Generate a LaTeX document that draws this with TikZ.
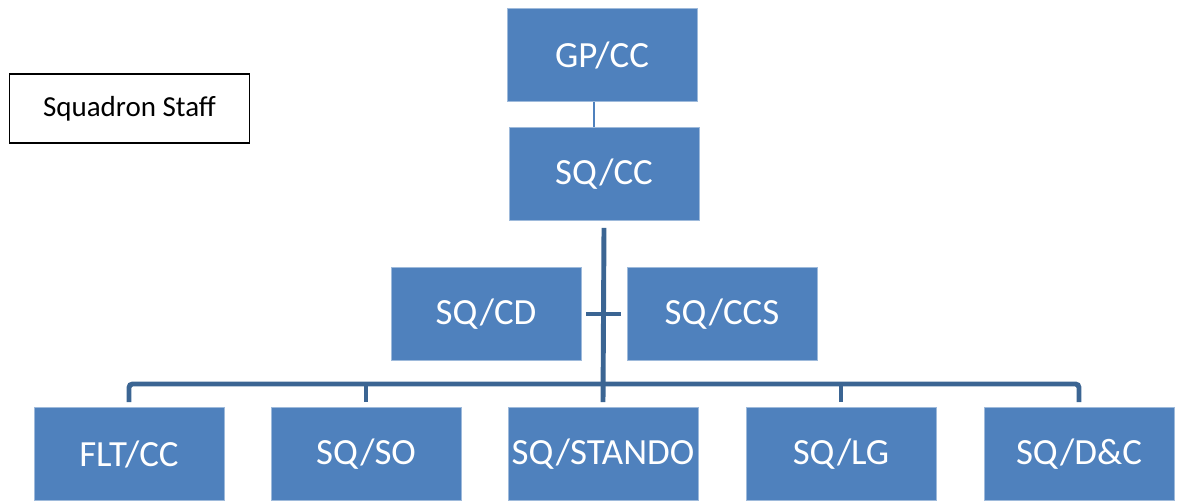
\documentclass[tikz,border=0pt]{standalone}
\usepackage{fontspec}
\setmainfont{Carlito}
\usepackage{tikz}
\usetikzlibrary{calc}
\definecolor{boxblue}{HTML}{4F81BD}
\definecolor{lineblue}{HTML}{3B6593}
\tikzset{
  unit/.style={rectangle,fill=boxblue,draw=boxblue!55!white,line width=0.5pt,
    minimum width=3.8cm,minimum height=1.86cm,inner sep=0pt,
    text=white,font=\fontsize{21}{25}\selectfont},
  trunk/.style={draw=lineblue,line width=2.8pt},
  link/.style={draw=boxblue,line width=1.1pt},
  tag/.style={rectangle,draw=black,line width=0.9pt,fill=white,
    minimum width=4.8cm,minimum height=1.38cm,font=\fontsize{16.5}{20}\selectfont}
}
\begin{document}
\begin{tikzpicture}[x=0.02cm,y=-0.02cm]
\useasboundingbox (0,0) rectangle (1179,502);
% Legend
\node[tag] (staff) at (129.5,108.5) {Squadron Staff};

% Command boxes
\node[unit] (gpcc) at (602,55) {GP/CC};
\node[unit] (sqcc) at (604,174) {SQ/CC};
\node[unit] (sqcd) at (486,314) {SQ/CD};
\node[unit] (sqccs) at (722,314) {SQ/CCS};

% Staff boxes
\node[unit] (fltcc) at (129,454) {FLT/CC};
\node[unit] (sqso) at (366,454) {SQ/SO};
\node[unit] (stando) at (603,454) {SQ/STANDO};
\node[unit] (sqlg) at (841,454) {SQ/LG};
\node[unit] (sqdc) at (1079,454) {SQ/D\&C};

\coordinate (bus) at (604,384);

% Connectors
\draw[link] ([xshift=-0.16cm]gpcc.south) -- ([xshift=-0.16cm]gpcc.south |- sqcc.north);
\draw[trunk] ([yshift=-0.14cm]sqcc.south) -- ([yshift=0.1cm]stando.north);
\draw[trunk] ([xshift=0.1cm]sqcd.east) -- ([xshift=-0.12cm]sqccs.west);
\draw[trunk,rounded corners=2pt] ([yshift=0.1cm]fltcc.north) |- (bus) -| ([yshift=0.1cm]sqdc.north);
\foreach \n in {sqso,sqlg}
  \draw[trunk] ([yshift=0.1cm]\n.north) -- (\n.north |- bus);
\end{tikzpicture}
\end{document}
